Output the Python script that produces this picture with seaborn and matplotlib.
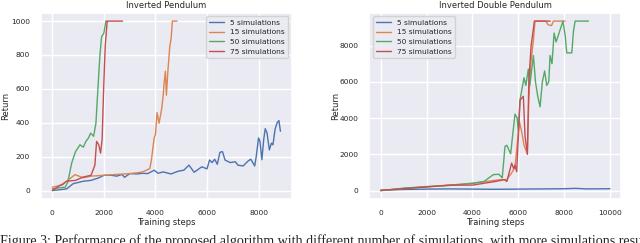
import pandas as pd
import matplotlib.pyplot as plt
import seaborn as sns

labels = ['5 simulations', '15 simulations', '50 simulations', '75 simulations']

# Inverted Pendulum
ip_x_5 = [0, 300, 555, 800, 1200, 1500, 1800, 2000, 2300, 2500, 2700, 2800, 3000, 3300, 3500,
          3700, 3950, 4100, 4300, 4600, 4900, 5100, 5300, 5500, 5800, 6000, 6100, 6200, 6300,
          6400, 6500, 6600, 6700, 6900, 7100, 7200, 7400, 7600, 7700, 7850, 7910, 8000, 8050,
          8130, 8200, 8260, 8330, 8420, 8500, 8560, 8640, 8720, 8790, 8850]
ip_y_5 = [0, 5, 10, 40, 55, 60, 75, 90, 90, 85, 95, 78, 100, 98, 102,
          100, 120, 102, 110, 98, 115, 120, 150, 108, 140, 128, 180, 165, 185,
          155, 225, 230, 180, 165, 170, 150, 145, 175, 185, 145, 200, 310, 295,
          182, 300, 365, 340, 240, 280, 270, 360, 400, 413, 350]
ip_x_15 = [0, 300, 600, 877, 1200, 1500, 2000, 2500, 3000, 3300, 3500, 3650, 3780, 3844,
           3947, 4000, 4064, 4141, 4244, 4300, 4334, 4386, 4425, 4480, 4554, 4610, 4657, 4838]
ip_y_15 = [20, 30, 60, 94, 75, 85, 90, 95, 100, 105, 110, 120, 130, 180,
           309, 330, 460, 397, 485, 560, 632, 704, 563, 700, 847, 900, 1000, 1000]
ip_x_50 = [0, 200, 500, 600, 748, 900, 1071, 1200, 1300, 1400, 1484, 1600, 1690, 1767,
           1845, 1909, 2000, 2077, 2110]
ip_y_50 = [10, 15, 20, 50, 162, 230, 270, 256, 290, 310, 339, 320, 397, 600,
           798, 906, 930, 1000, 1000]
ip_x_75 = [0, 297, 400, 555, 900, 1200, 1500, 1650, 1716, 1800, 1870, 1930, 1990, 2050,
           2128, 2722]
ip_y_75 = [0, 31, 35, 55, 60, 80, 90, 150, 290, 270, 221, 300, 600, 850,
           1000, 1000]

# Inverted Double Pendulum
idp_x_5 = [0, 1000, 2000, 3000, 4000, 5000, 6000, 7000, 8000, 8500, 9000, 10000]
idp_y_5 = [20, 60, 80, 90, 80, 70, 80, 90, 100, 120, 90, 100]
idp_x_15 = [0, 1000, 2000, 3000, 4000, 4619, 5200, 5493, 5711, 5857, 6047, 6148, 6250,
            6396, 6460, 6542, 6660, 6731, 7200, 7300, 7450, 7533, 8043]
idp_y_15 = [0, 120, 200, 300, 400, 500, 600, 600, 970, 1300, 3800, 3250, 2500,
            2027, 5000, 7000, 8308, 9350, 9350, 9150, 9100, 9350, 9350]
idp_x_50 = [0, 1000, 2000, 3000, 4000, 4500, 4910, 5150, 5300, 5420, 5500, 5668, 5750,
            5857, 5950, 6000, 6076, 6250, 6330, 6440, 6500, 6560, 6660, 6750, 6850,
            6950, 7050, 7150, 7241, 7330, 7387, 7470, 7562, 7650, 7780, 7950, 8050,
            8115, 8334, 8407, 8480, 9062]
idp_y_50 = [0, 130, 220, 280, 400, 500, 876, 900, 700, 2430, 2500, 2027, 3000,
            4218, 4000, 3300, 5000, 6227, 5800, 6700, 5800, 6400, 7450, 6000, 5200,
            4620, 6000, 6600, 5800, 6000, 7450, 7000, 8690, 8200, 8700, 9350, 8500,
            7596, 7596, 8800, 9350, 9350]
idp_x_75 = [0, 1000, 2000, 3000, 4000, 4500, 5000, 5400, 5500, 5711, 5800, 5850, 5930,
            6076, 6221, 6294, 6396, 6460, 6560, 6702, 7387]
idp_y_75 = [0, 100, 200, 300, 300, 400, 500, 600, 500, 1515, 1200, 1400, 1040,
            4985, 5200, 3000, 2000, 6000, 8000, 9350, 9350]


def make_df(xs, ys):
    parts = []
    for lab, x, y in zip(labels, xs, ys):
        parts.append(pd.DataFrame({'step': x, 'ret': y, 'label': lab}))
    return pd.concat(parts, ignore_index=True)


ip_df = make_df([ip_x_5, ip_x_15, ip_x_50, ip_x_75], [ip_y_5, ip_y_15, ip_y_50, ip_y_75])
idp_df = make_df([idp_x_5, idp_x_15, idp_x_50, idp_x_75], [idp_y_5, idp_y_15, idp_y_50, idp_y_75])

sns.set_theme(style='darkgrid')
plt.rcParams['font.family'] = ['DejaVu Sans']

fig = plt.figure(figsize=(6.4, 2.43), dpi=100)
ax1 = fig.add_axes([0.064, 0.181, 0.392, 0.767])
ax2 = fig.add_axes([0.577, 0.181, 0.394, 0.767])

for ax, df, title, loc, lx in [(ax1, ip_df, 'Inverted Pendulum', 'upper right', -0.121),
                               (ax2, idp_df, 'Inverted Double Pendulum', 'upper left', -0.117)]:
    sns.lineplot(data=df, x='step', y='ret', hue='label', estimator=None, sort=False,
                 linewidth=1.0, ax=ax)
    ax.set_title(title, fontsize=6, pad=3)
    ax.set_xlabel('Training steps', fontsize=6, labelpad=1)
    ax.set_ylabel('Return', fontsize=6)
    ax.yaxis.set_label_coords(lx, 0.5)
    ax.tick_params(labelsize=5.4, pad=2)
    ax.legend(loc=loc, fontsize=5.4, title=None, handlelength=2.0, borderpad=0.4,
              labelspacing=0.45)

ax2.set_xticks([0, 2000, 4000, 6000, 8000, 10000])

fig.text(0.0, -0.01, 'Figure 3: Performance of the proposed algorithm with different number of '
         'simulations, with more simulations resulting in faster convergence.',
         family='Liberation Serif', fontsize=10.1, va='baseline', ha='left')

fig.savefig('out.png', dpi=100)
